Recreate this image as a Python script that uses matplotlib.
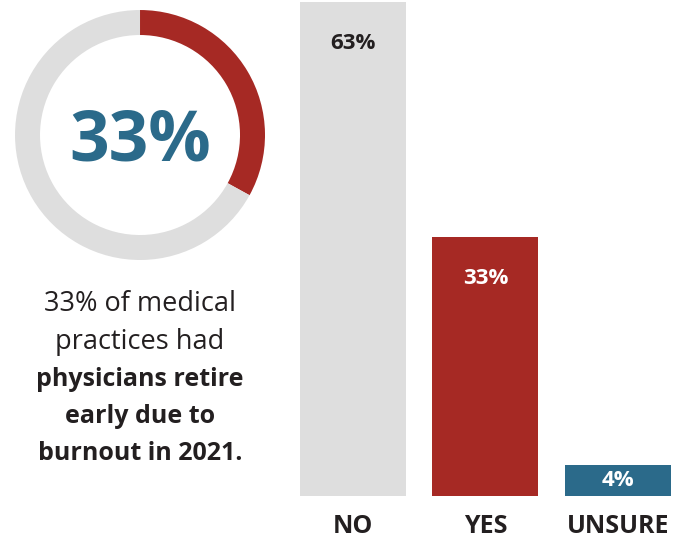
import matplotlib.pyplot as plt

plt.rcParams['font.family'] = ['Open Sans', 'DejaVu Sans']

# data
categories = ["NO", "YES", "UNSURE"]
shares = [63, 33, 4]
donut_share = 33

GRAY = "#dedede"
RED = "#a62924"
BLUE = "#2b6a8a"
DARK = "#231f20"

bar_colors = [GRAY, RED, BLUE]
label_colors = [DARK, "white", "white"]

fig = plt.figure(figsize=(6.86, 5.38), dpi=100)

# donut on the left
ax_d = fig.add_axes([0.0219, 0.5167, 0.3644, 0.4647])
ax_d.pie([donut_share, 100 - donut_share], colors=[RED, GRAY],
         startangle=90, counterclock=False, radius=1,
         wedgeprops=dict(width=0.2, linewidth=0))
ax_d.set_xlim(-1, 1)
ax_d.set_ylim(-1, 1)
ax_d.set_aspect("equal")
ax_d.axis("off")
ax_d.text(0, -0.06, f"{donut_share}%", ha="center", va="center",
          fontsize=50, fontweight="bold", color=BLUE)

# caption under the donut
lines = [("33% of medical", "normal"),
         ("practices had", "normal"),
         ("physicians retire", "bold"),
         ("early due to", "bold"),
         ("burnout in 2021.", "bold")]
y0 = 304
for i, (txt, w) in enumerate(lines):
    fig.text(140 / 686, 1 - (y0 + i * 37.5) / 538, txt, ha="center", va="center",
             fontsize=19.5 if w == "normal" else 18, fontweight=w, color=DARK)

# bars on the right
ax = fig.add_axes([0.4373, 0.0781, 0.5408, 0.9182])
x = list(range(len(categories)))
ax.bar(x, shares, width=0.8, color=bar_colors)
ax.set_xlim(-0.4, 2.4)
ax.set_ylim(0, max(shares))
for s in ax.spines.values():
    s.set_visible(False)
ax.set_yticks([])
ax.set_xticks(x)
ax.set_xticklabels(categories, fontsize=18, fontweight="bold", color=DARK)
ax.tick_params(axis="x", length=0, pad=13)

for xi, v, c in zip(x, shares, label_colors):
    if v > 20:
        ax.annotate(f"{v}%", (xi, v), xytext=(0, -30), textcoords="offset points",
                    ha="center", va="center", fontsize=16, fontweight="bold", color=c)
    else:
        ax.annotate(f"{v}%", (xi, v / 2), ha="center", va="center",
                    fontsize=16, fontweight="bold", color=c)

fig.savefig("out.png", dpi=100)
